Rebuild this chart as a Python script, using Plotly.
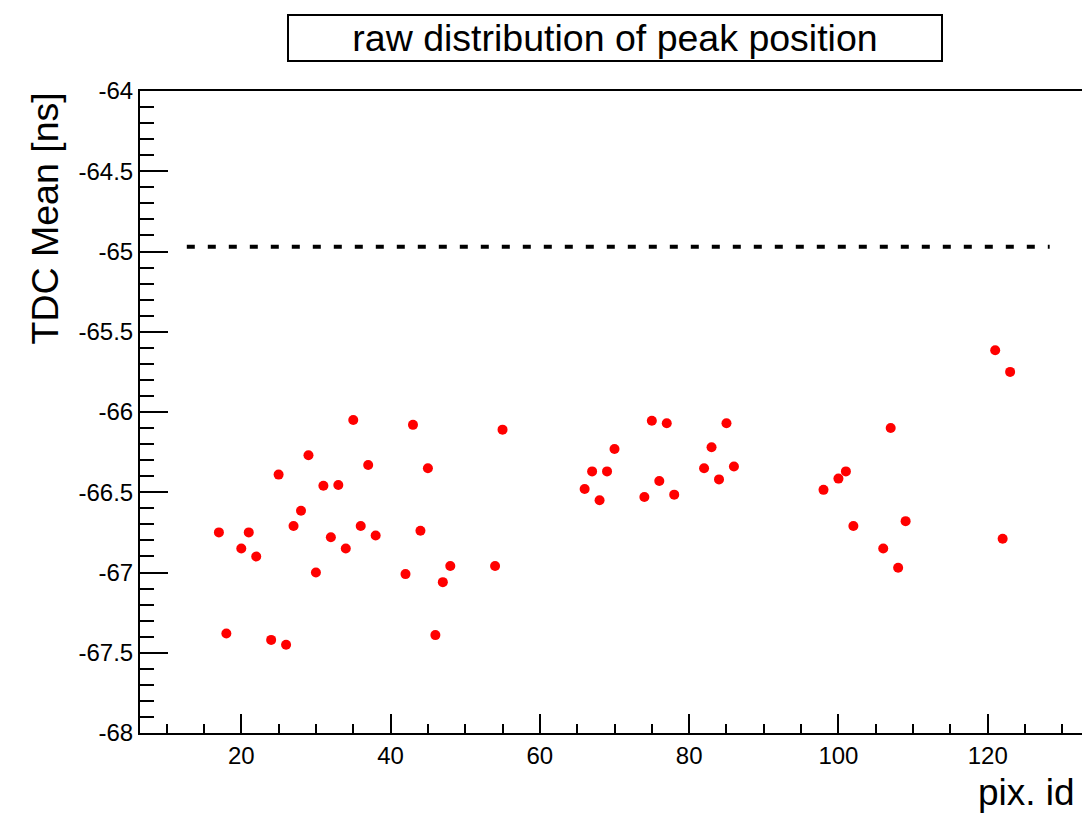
import plotly.graph_objects as go

pix_id = [17, 18, 20, 21, 22, 24, 25, 26, 27, 28, 29, 30, 31, 32, 33, 34, 35, 36, 37, 38,
          42, 43, 44, 45, 46, 47, 48, 54, 55,
          66, 67, 68, 69, 70, 74, 75, 76, 77, 78, 82, 83, 84, 85, 86,
          98, 100, 101, 102, 106, 107, 108, 109, 121, 122, 123]
tdc_mean = [-66.75, -67.38, -66.85, -66.75, -66.90, -67.42, -66.39, -67.45, -66.71, -66.615,
            -66.27, -67.00, -66.46, -66.78, -66.455, -66.85, -66.05, -66.71, -66.33, -66.77,
            -67.01, -66.08, -66.74, -66.35, -67.39, -67.06, -66.96, -66.96, -66.11,
            -66.48, -66.37, -66.55, -66.37, -66.23, -66.53, -66.055, -66.43, -66.07, -66.515,
            -66.35, -66.22, -66.42, -66.07, -66.34,
            -66.485, -66.415, -66.37, -66.71, -66.85, -66.10, -66.97, -66.68, -65.615, -66.79, -65.75]

ref_x = [12.7, 128.3]
ref_y = [-64.97, -64.97]

y_tick_vals = [-68, -67.5, -67, -66.5, -66, -65.5, -65, -64.5, -64]
y_tick_text = ["-68", "-67.5", "-67", "-66.5", "-66", "-65.5", "-65", "-64.5", "-64"]

title_text = "raw distribution of peak position"
x_title = "pix. id"
y_title = "TDC Mean [ns]"

FONT = "Liberation Sans, Arial, Helvetica, sans-serif"

fig = go.Figure()
fig.add_trace(go.Scatter(x=ref_x, y=ref_y, mode="lines",
                         line=dict(color="black", width=4, dash="8px,13px"),
                         hoverinfo="skip", showlegend=False))
fig.add_trace(go.Scatter(x=pix_id, y=tdc_mean, mode="markers",
                         marker=dict(color="#ff0000", size=10, line=dict(width=0)),
                         showlegend=False))

fig.update_layout(
    width=1082, height=814,
    margin=dict(l=140, r=0, t=91, b=81),
    paper_bgcolor="white", plot_bgcolor="white",
    font=dict(family=FONT, color="black"),
    xaxis=dict(range=[6.43, 132.63], showgrid=False, zeroline=False,
               showline=True, linecolor="black", linewidth=2, mirror=True,
               ticks="inside", ticklen=19, tickwidth=2, tickcolor="black",
               tick0=0, dtick=20, tickfont=dict(size=24, family=FONT),
               minor=dict(ticks="inside", ticklen=9, tickwidth=2, tickcolor="black", dtick=5, tick0=0, showgrid=False)),
    yaxis=dict(range=[-68, -64], showgrid=False, zeroline=False,
               showline=True, linecolor="black", linewidth=2, mirror=False,
               ticks="inside", ticklen=28, tickwidth=2, tickcolor="black",
               tickmode="array", tickvals=y_tick_vals, ticktext=y_tick_text,
               tickfont=dict(size=24, family=FONT),
               minor=dict(ticks="inside", ticklen=14, tickwidth=2, tickcolor="black", dtick=0.1, tick0=-68, showgrid=False)),
    annotations=[
        dict(text=title_text, xref="paper", yref="paper", x=(615 - 140) / 942, y=1 + (91 - 38) / 642,
             xanchor="center", yanchor="middle", showarrow=False,
             font=dict(size=37.5, family=FONT), width=652, height=44,
             bordercolor="black", borderwidth=2, borderpad=0, bgcolor="white"),
        dict(text=y_title, xref="paper", yref="paper", x=(44.5 - 140) / 942, y=1.0,
             xanchor="center", yanchor="top", textangle=-90, showarrow=False,
             font=dict(size=37.5, family=FONT)),
        dict(text=x_title, xref="paper", yref="paper", x=(1077 - 140) / 942, y=-(792 - 733) / 642,
             xanchor="right", yanchor="middle", showarrow=False,
             font=dict(size=37, family=FONT)),
    ],
)

fig.write_html("out.html", config={"displayModeBar": False},
               post_script="document.body.style.margin='0';document.body.style.overflow='hidden';")
